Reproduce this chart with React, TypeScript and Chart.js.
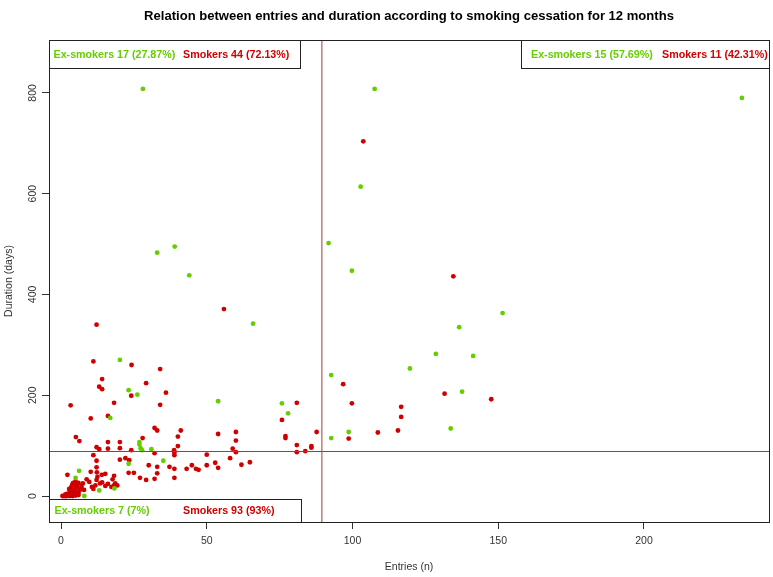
import React, { useEffect, useRef } from "react";
import { Chart, registerables } from "chart.js";

Chart.register(...registerables);

// ---- Data ----
const exSmokerX = [
  28.1, 33, 39, 44, 65.9, 20.2, 23.2, 26.2, 16.9, 26.9, 26.9, 27.3, 27.8, 31, 53.9, 75.8, 77.9,
  6.2, 5.0, 13.1, 18.3, 8.0, 23.2, 35.1,
  107.6, 102.8, 91.8, 99.8, 233.6, 151.5, 136.6, 128.6, 141.4, 119.7, 137.6, 98.7, 133.7, 92.7, 92.7,
];
const exSmokerY = [
  808, 483, 495, 438, 342, 270, 210, 201, 155, 107, 102, 95, 91, 93, 188, 184, 164,
  50, 36, 11, 15, 0, 64, 70,
  808, 614, 502, 447, 790, 363, 335, 282, 278, 253, 207, 127, 134, 240, 115,
];
const smokerX = [
  // upper right
  103.7, 134.6, 96.8, 99.8, 131.6, 147.6, 116.7, 116.7, 98.7, 108.7, 115.6,
  // upper left
  12.2, 55.9, 11.1, 24.2, 34, 14.1, 29.2, 13.1, 14.1, 36, 24.1, 18.2, 3.3, 34, 16.1, 10.2, 32.1, 33, 41.1, 40.1,
  5.1, 6.3, 28, 16.1, 20.2, 40.1, 16.1, 20.2, 13.1, 38.8, 80.9, 75.8, 53.9, 60, 60, 58.9, 77, 77, 87.7, 80.9,
  85.9, 85.9, 24.1, 12.2,
  // lower left
  32.1, 11.1, 38.9, 38.9, 22.1, 20.2, 12.2, 23.4, 30.1, 37.2, 33, 12.2, 43.1, 44.9, 46.3, 47.2, 38.9, 23.2, 25, 10.2,
  33, 2.2, 15.2, 18.2, 17.7, 12.5, 12.2, 27.1, 29.2, 32.1, 38.9, 8.8, 9.7, 4.2, 3.8, 13.4, 14.1, 16.1, 17.3, 18.2,
  19.3, 10.6, 11.8, 7, 7.9, 11.1, 15.2, 14, 18.6, 50, 58, 52.9, 53.9, 50, 61.9, 64.8, 80.9, 83.8, 60, 12.3,
  0.5, 1, 1.5, 2, 2.5, 3, 3.5, 4, 4.5, 5, 2, 3, 4, 5, 3, 4, 5, 3.5, 4.5, 5.5, 6, 5, 6, 6.5, 7, 2.8, 1.5, 3, 4, 6, 5.5, 4, 7.5,
];
const smokerY = [
  704, 436, 222, 184, 203, 192, 177, 157, 114, 126, 130,
  340, 371, 267, 260, 252, 232, 224, 217, 212, 205, 199, 185, 180, 181, 159, 154, 135, 130, 130, 118,
  117, 109, 115, 107, 107, 99, 94, 95, 93, 91, 185, 151, 123, 127, 110, 94, 119, 115, 127, 101,
  99, 96, 91, 97,
  85, 81, 86, 81, 75, 72, 70, 71, 61, 58, 58, 57, 54, 61, 54, 52, 54, 46, 46, 48,
  45, 42, 44, 40, 33, 38, 32, 36, 32, 34, 36, 33, 28, 26, 21, 25, 27, 24, 18, 21,
  21, 18, 21, 16, 12, 14, 20, 42, 25, 82, 75, 66, 56, 61, 62, 67, 87, 89, 87, 47,
  0, 0, 0, 0, 1, 0, 2, 0, 3, 1, 4, 6, 8, 10, 10, 13, 15, 17, 20, 23, 26, 29, 6, 12, 20, 14, 3, 3, 5, 2, 18, 24, 25,
];

const xTickValues = [0, 50, 100, 150, 200];
const yTickValues = [0, 200, 400, 600, 800];
const entriesCut = 89.5;
const durationCut = 89;

const titleText = "Relation between entries and duration according to smoking cessation for 12 months";
const xTitle = "Entries (n)";
const yTitle = "Duration (days)";
const legendTopLeft = ["Ex-smokers 17 (27.87%)", "Smokers 44 (72.13%)"];
const legendTopRight = ["Ex-smokers 15 (57.69%)", "Smokers 11 (42.31%)"];
const legendBottomLeft = ["Ex-smokers 7 (7%)", "Smokers 93 (93%)"];

// ---- Styles ----
const GREEN = "#66CD00";
const RED = "#D00000";
const CUT_COLOR = "#A83838";
const FONT = "'Liberation Sans', Arial, sans-serif";

function toPoints(xs: number[], ys: number[]) {
  return xs.map((x, i) => ({ x, y: ys[i] }));
}

const overlay = {
  id: "overlay",
  afterDatasetsDraw(chart: any) {
    const { ctx, chartArea: a, scales } = chart;
    const x = scales.x;
    const y = scales.y;
    ctx.save();
    // cut lines
    ctx.strokeStyle = CUT_COLOR;
    ctx.lineWidth = 1;
    const vx = x.getPixelForValue(entriesCut);
    ctx.beginPath();
    ctx.moveTo(vx, a.top);
    ctx.lineTo(vx, a.bottom);
    ctx.stroke();
    const hy = Math.round(y.getPixelForValue(durationCut)) + 0.5;
    ctx.beginPath();
    ctx.moveTo(a.left, hy);
    ctx.lineTo(a.right, hy);
    ctx.stroke();

    // legend boxes
    const box = (x0: number, y0: number, x1: number, y1: number, labels: string[], tx: number[], ty: number) => {
      ctx.fillStyle = "#fff";
      ctx.fillRect(x0, y0, x1 - x0, y1 - y0);
      ctx.strokeStyle = "#222";
      ctx.lineWidth = 1;
      ctx.strokeRect(x0 + 0.5, y0 + 0.5, x1 - x0, y1 - y0);
      ctx.font = `bold 10.7px ${FONT}`;
      ctx.textBaseline = "middle";
      ctx.textAlign = "left";
      ctx.fillStyle = GREEN;
      ctx.fillText(labels[0], tx[0], ty);
      ctx.fillStyle = RED;
      ctx.fillText(labels[1], tx[1], ty);
    };
    box(a.left, a.top, 300, 68, legendTopLeft, [53.5, 183], 55);
    box(521, a.top, a.right, 68, legendTopRight, [531, 662], 55);
    box(a.left, 499, 301, a.bottom, legendBottomLeft, [54.5, 183], 511);

    // frame
    ctx.strokeStyle = "#222";
    ctx.strokeRect(a.left + 0.5, a.top + 0.5, a.right - a.left, a.bottom - a.top);
    ctx.restore();
  },
  afterDraw(chart: any) {
    const { ctx, chartArea: a, scales } = chart;
    const x = scales.x;
    const y = scales.y;
    ctx.save();
    const cx = (a.left + a.right) / 2;
    // title
    ctx.fillStyle = "#000";
    ctx.textAlign = "center";
    ctx.textBaseline = "middle";
    ctx.font = `bold 13px ${FONT}`;
    const w = ctx.measureText(titleText).width;
    const size = (13 * 530) / w;
    ctx.font = `bold ${size.toFixed(2)}px ${FONT}`;
    ctx.fillText(titleText, cx, 16);

    // x ticks
    ctx.fillStyle = "#333";
    ctx.font = `10.5px ${FONT}`;
    xTickValues.forEach((v) => ctx.fillText(String(v), x.getPixelForValue(v), 541));
    // y ticks (rotated)
    yTickValues.forEach((v) => {
      ctx.save();
      ctx.translate(33, y.getPixelForValue(v));
      ctx.rotate(-Math.PI / 2);
      ctx.fillText(String(v), 0, 0);
      ctx.restore();
    });
    // axis titles
    ctx.font = `10.5px ${FONT}`;
    ctx.fillText(xTitle, cx, 567);
    ctx.save();
    ctx.translate(9, (a.top + a.bottom) / 2);
    ctx.rotate(-Math.PI / 2);
    ctx.fillText(yTitle, 0, 0);
    ctx.restore();
    ctx.restore();
  },
};

export default function App() {
  const ref = useRef<HTMLCanvasElement>(null);
  useEffect(() => {
    if (!ref.current) return;
    const chart = new Chart(ref.current, {
      type: "scatter",
      data: {
        datasets: [
          {
            label: "Ex-smokers",
            data: toPoints(exSmokerX, exSmokerY),
            backgroundColor: GREEN,
            borderWidth: 0,
            pointRadius: 2.4,
          },
          {
            label: "Smokers",
            data: toPoints(smokerX, smokerY),
            backgroundColor: RED,
            borderWidth: 0,
            pointRadius: 2.4,
          },
        ],
      },
      options: {
        responsive: false,
        animation: false,
        devicePixelRatio: 1,
        layout: { padding: { top: 40, right: 4, left: 0, bottom: 0 } },
        plugins: { legend: { display: false }, tooltip: { enabled: false }, title: { display: false } },
        scales: {
          x: {
            type: "linear",
            min: -4.12,
            max: 242.9,
            afterBuildTicks: (s: any) => {
              s.ticks = xTickValues.map((v) => ({ value: v }));
            },
            afterFit: (s: any) => {
              s.height = 55;
            },
            ticks: { display: false },
            grid: { display: true, drawOnChartArea: false, drawTicks: true, tickLength: 7, color: "#333" },
            border: { display: true, color: "#222" },
          },
          y: {
            type: "linear",
            min: -51.6,
            max: 905,
            afterBuildTicks: (s: any) => {
              s.ticks = yTickValues.map((v) => ({ value: v }));
            },
            afterFit: (s: any) => {
              s.width = 49;
            },
            ticks: { display: false },
            grid: { display: true, drawOnChartArea: false, drawTicks: true, tickLength: 7, color: "#333" },
            border: { display: true, color: "#222" },
          },
        },
      },
      plugins: [overlay],
    });
    return () => chart.destroy();
  }, []);
  return (
    <canvas
      ref={ref}
      width={773}
      height={577}
      style={{ position: "fixed", left: 0, top: 0, width: 773, height: 577 }}
    />
  );
}
